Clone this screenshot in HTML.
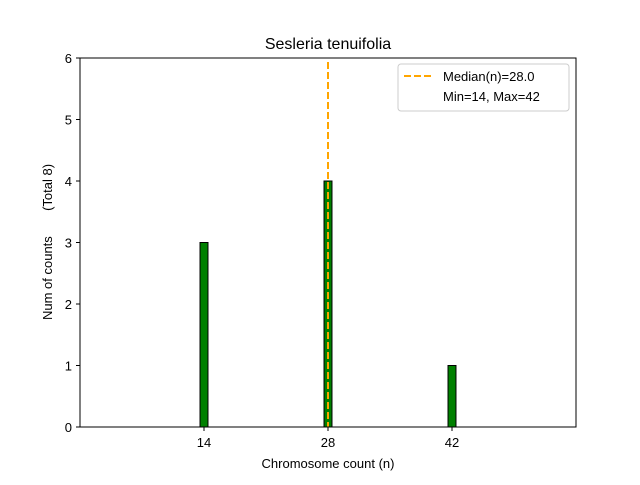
<!DOCTYPE html>
<html><head><meta charset="utf-8"><style>
body{margin:0;background:#fff;font-family:"Liberation Sans","DejaVu Sans",sans-serif;}
</style></head><body>
<svg width="640" height="480" xmlns="http://www.w3.org/2000/svg" font-family="Liberation Sans, DejaVu Sans, sans-serif">
<text x="328" y="49" text-anchor="middle" font-size="16">Sesleria tenuifolia</text>
<g id="marks"></g>
<rect x="80" y="58" width="496" height="369" fill="none" stroke="#000" stroke-width="1"/>
<g id="axes" font-size="13"></g>
<text x="328" y="468" text-anchor="middle" font-size="13">Chromosome count (n)</text>
<text transform="translate(52,242) rotate(-90)" text-anchor="middle" font-size="13">Num of counts&#160;&#160;&#160;&#160;&#160;&#160;&#160;(Total 8)</text>
<g>
<rect x="398" y="64" width="171" height="47" fill="#fff" stroke="#ccc" rx="3"/>
<line x1="404" y1="76" x2="432" y2="76" stroke="orange" stroke-width="2" stroke-dasharray="7,3"/>
<text x="443" y="81" font-size="13">Median(n)=28.0</text>
<text x="443" y="101" font-size="13">Min=14, Max=42</text>
</g>
</svg>
<script>
const categories=[14,28,42];
const counts=[3,4,1];
const median=28.0;
const xTicks=[14,28,42];
const yTicks=[0,1,2,3,4,5,6];
const NS="http://www.w3.org/2000/svg";
const xs=v=>80+v*(496/56);
const ys=v=>427-v*(369/6);
const marks=document.getElementById('marks'),axes=document.getElementById('axes');
function mk(t,a,p){const e=document.createElementNS(NS,t);for(const k in a)e.setAttribute(k,a[k]);p.appendChild(e);return e;}
const base=mk('line',{x1:80,y1:427,x2:xs(45.7),y2:427,stroke:'#000'},marks);


categories.forEach((c,i)=>{
 const r=mk('rect',{x:xs(c-0.45),y:ys(counts[i]),width:xs(0.9)-xs(0),height:ys(0)-ys(counts[i]),fill:'green',stroke:'#000','stroke-width':1},marks);
 
 
});
const ml=mk('line',{x1:xs(median),y1:62,x2:xs(median),y2:427,stroke:'orange','stroke-width':2,'stroke-dasharray':'7,3'},marks);


xTicks.forEach(t=>{
 mk('line',{x1:xs(t),y1:427,x2:xs(t),y2:431,stroke:'#000'},axes);
 const tx=mk('text',{x:xs(t),y:447,'text-anchor':'middle'},axes);tx.textContent=t;
 
 
});
yTicks.forEach(t=>{
 mk('line',{x1:76,y1:ys(t),x2:80,y2:ys(t),stroke:'#000'},axes);
 const tx=mk('text',{x:72,y:ys(t)+5,'text-anchor':'end'},axes);tx.textContent=t;
 
 
});
</script>
</body></html>
